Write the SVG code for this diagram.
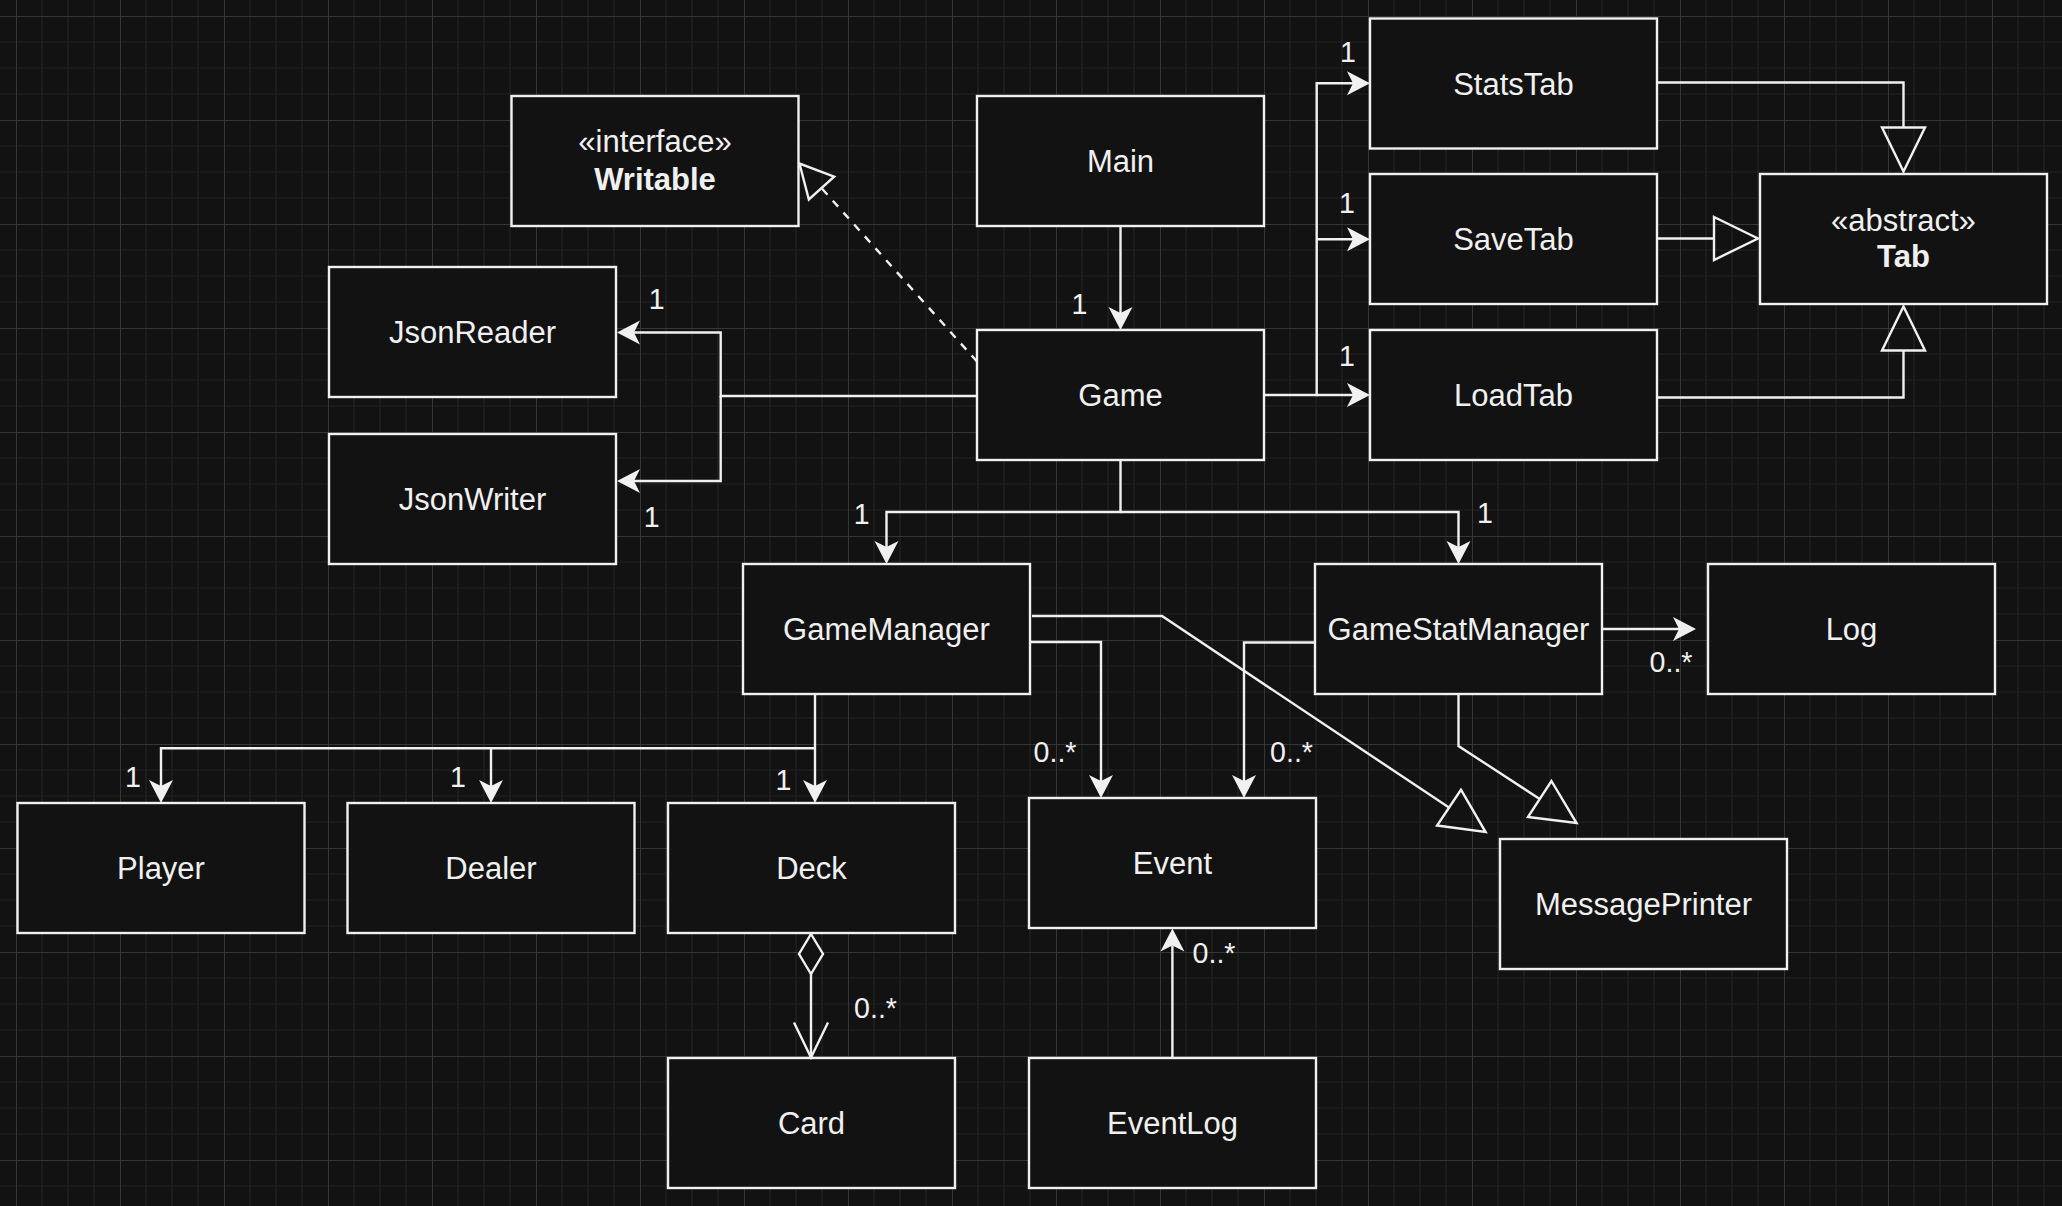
<svg xmlns="http://www.w3.org/2000/svg" width="2062" height="1206" viewBox="0 0 2062 1206">
  <style>
    .node rect { fill: #121212; stroke: #f0f0f0; stroke-width: 2.4; }
    .node text { font-family: "Liberation Sans", Arial, Helvetica, sans-serif; font-size: 31px; fill: #f0f0f0; text-anchor: middle; }
    .node text.b { font-weight: bold; }
    .edge { fill: none; stroke: #f0f0f0; stroke-width: 2.4; }
    .dash { stroke-dasharray: 8 8; }
    .lbl { font-family: "Liberation Sans", Arial, Helvetica, sans-serif; font-size: 28.6px; fill: #f0f0f0; text-anchor: middle; }
  </style>
  <defs>
    <!-- background grid: 26px minor cells, 104px major cells -->
    <pattern id="grid" x="16" y="16" width="104" height="104" patternUnits="userSpaceOnUse">
      <path d="M26,0V104M52,0V104M78,0V104M0,26H104M0,52H104M0,78H104" stroke="#1d1d1d" stroke-width="1.6" fill="none"/>
      <path d="M0.5,0V104M0,0.5H104" stroke="#363636" stroke-width="1" fill="none"/>
    </pattern>
    <!-- filled arrowhead with notch; path end sits at the notch -->
    <marker id="arrow" markerUnits="userSpaceOnUse" markerWidth="24" markerHeight="24" refX="6" refY="12" orient="auto" overflow="visible">
      <path d="M0,0 L23,12 L0,24 L6,12 Z" fill="#f0f0f0" stroke="none"/>
    </marker>
    <!-- hollow triangle for generalization; path end sits at the base -->
    <marker id="gen" markerUnits="userSpaceOnUse" markerWidth="46" markerHeight="44" refX="0" refY="21.5" orient="auto" overflow="visible">
      <path d="M0,0 L44,21.5 L0,43 Z" fill="none" stroke="#f0f0f0" stroke-width="2.4" stroke-dasharray="none"/>
    </marker>
    <!-- smaller hollow triangle for interface realization -->
    <marker id="real" markerUnits="userSpaceOnUse" markerWidth="34" markerHeight="34" refX="0" refY="17" orient="auto" overflow="visible">
      <path d="M0,0 L33,17 L0,34 Z" fill="none" stroke="#f0f0f0" stroke-width="2.4" stroke-dasharray="none"/>
    </marker>
    <!-- open diamond for aggregation -->
    <marker id="diamond" markerUnits="userSpaceOnUse" markerWidth="42" markerHeight="26" refX="0" refY="12" orient="auto" overflow="visible">
      <path d="M0,12 L20,0 L40,12 L20,24 Z" fill="#121212" stroke="#f0f0f0" stroke-width="2.4"/>
    </marker>
    <!-- open V arrowhead -->
    <marker id="open" markerUnits="userSpaceOnUse" markerWidth="36" markerHeight="36" refX="35" refY="17" orient="auto" overflow="visible">
      <path d="M0,0 L35,17 L0,34" fill="none" stroke="#f0f0f0" stroke-width="2.4"/>
    </marker>
  </defs>

  <rect width="2062" height="1206" fill="#121212"/>
  <rect width="2062" height="1206" fill="url(#grid)"/>

  <!-- classes -->
  <g id="n-writable" class="node"><rect x="511.5" y="96" width="287" height="130"/><text x="655" y="151.5">«interface»</text><text class="b" x="655" y="190">Writable</text></g>
  <g id="n-main" class="node"><rect x="977" y="96" width="287" height="130"/><text x="1120.5" y="172">Main</text></g>
  <g id="n-statstab" class="node"><rect x="1370" y="18.5" width="287" height="130"/><text x="1513.5" y="94.5">StatsTab</text></g>
  <g id="n-savetab" class="node"><rect x="1370" y="174" width="287" height="130"/><text x="1513.5" y="250">SaveTab</text></g>
  <g id="n-tab" class="node"><rect x="1760" y="174" width="287" height="130"/><text x="1903.5" y="230.5">«abstract»</text><text class="b" x="1903.5" y="267">Tab</text></g>
  <g id="n-loadtab" class="node"><rect x="1370" y="330" width="287" height="130"/><text x="1513.5" y="406">LoadTab</text></g>
  <g id="n-jsonreader" class="node"><rect x="329" y="267" width="287" height="130"/><text x="472.5" y="343">JsonReader</text></g>
  <g id="n-game" class="node"><rect x="977" y="330" width="287" height="130"/><text x="1120.5" y="406">Game</text></g>
  <g id="n-jsonwriter" class="node"><rect x="329" y="434" width="287" height="130"/><text x="472.5" y="510">JsonWriter</text></g>
  <g id="n-gamemanager" class="node"><rect x="743" y="564" width="287" height="130"/><text x="886.5" y="640">GameManager</text></g>
  <g id="n-gamestatmanager" class="node"><rect x="1315" y="564" width="287" height="130"/><text x="1458.5" y="640">GameStatManager</text></g>
  <g id="n-log" class="node"><rect x="1708" y="564" width="287" height="130"/><text x="1851.5" y="640">Log</text></g>
  <g id="n-player" class="node"><rect x="17.5" y="803" width="287" height="130"/><text x="161" y="879">Player</text></g>
  <g id="n-dealer" class="node"><rect x="347.5" y="803" width="287" height="130"/><text x="491" y="879">Dealer</text></g>
  <g id="n-deck" class="node"><rect x="668" y="803" width="287" height="130"/><text x="811.5" y="879">Deck</text></g>
  <g id="n-event" class="node"><rect x="1029" y="798" width="287" height="130"/><text x="1172.5" y="874">Event</text></g>
  <g id="n-messageprinter" class="node"><rect x="1500" y="839" width="287" height="130"/><text x="1643.5" y="915">MessagePrinter</text></g>
  <g id="n-card" class="node"><rect x="668" y="1058" width="287" height="130"/><text x="811.5" y="1134">Card</text></g>
  <g id="n-eventlog" class="node"><rect x="1029" y="1058" width="287" height="130"/><text x="1172.5" y="1134">EventLog</text></g>

  <!-- relationships -->
  <g id="connectors">
    <!-- Game realizes Writable -->
    <path class="edge dash" d="M977,361.5 L821.5,188.1" marker-end="url(#real)"/>
    <!-- Main -> Game -->
    <path class="edge" d="M1120.5,226 V313" marker-end="url(#arrow)"/>
    <text class="lbl" x="1079.5" y="314">1</text>
    <!-- Game -> JsonReader / JsonWriter -->
    <path class="edge" d="M977,396 H720.7 V332.5 H634" marker-end="url(#arrow)"/>
    <path class="edge" d="M720.7,396 V481 H634" marker-end="url(#arrow)"/>
    <text class="lbl" x="656.7" y="308.5">1</text>
    <text class="lbl" x="651.7" y="527">1</text>
    <!-- Game -> tabs -->
    <path class="edge" d="M1264,395 H1316.7 V83.3 H1353" marker-end="url(#arrow)"/>
    <path class="edge" d="M1316.7,239.3 H1353" marker-end="url(#arrow)"/>
    <path class="edge" d="M1316.7,395 H1353" marker-end="url(#arrow)"/>
    <text class="lbl" x="1348" y="62">1</text>
    <text class="lbl" x="1347" y="212.5">1</text>
    <text class="lbl" x="1347" y="366">1</text>
    <!-- tabs extend Tab -->
    <path class="edge" d="M1657,82.5 H1903.5 V127.5" marker-end="url(#gen)"/>
    <path class="edge" d="M1657,238.5 H1714" marker-end="url(#gen)"/>
    <path class="edge" d="M1657,397.5 H1903.5 V350.5" marker-end="url(#gen)"/>
    <!-- Game -> managers -->
    <path class="edge" d="M1120.5,460 V512 H886.5 V547" marker-end="url(#arrow)"/>
    <path class="edge" d="M1120.5,512 H1458.5 V547" marker-end="url(#arrow)"/>
    <text class="lbl" x="861.6" y="524">1</text>
    <text class="lbl" x="1485" y="523">1</text>
    <!-- GameManager -> Player / Dealer / Deck -->
    <path class="edge" d="M815,694 V786" marker-end="url(#arrow)"/>
    <path class="edge" d="M815,748.3 H161 V786" marker-end="url(#arrow)"/>
    <path class="edge" d="M491,748.3 V786" marker-end="url(#arrow)"/>
    <text class="lbl" x="133" y="787">1</text>
    <text class="lbl" x="458" y="787">1</text>
    <text class="lbl" x="783.5" y="789.5">1</text>
    <!-- managers -> Event -->
    <path class="edge" d="M1030,642 H1101 V781" marker-end="url(#arrow)"/>
    <path class="edge" d="M1315,642.5 H1244 V781" marker-end="url(#arrow)"/>
    <text class="lbl" x="1055" y="762">0..*</text>
    <text class="lbl" x="1291.5" y="762">0..*</text>
    <!-- GameStatManager -> Log -->
    <path class="edge" d="M1602,629 H1679" marker-end="url(#arrow)"/>
    <text class="lbl" x="1671" y="672">0..*</text>
    <!-- managers extend MessagePrinter -->
    <path class="edge" d="M1032,616 H1162 L1449,807.6" marker-end="url(#gen)"/>
    <path class="edge" d="M1458.5,694 V746 L1539.7,799" marker-end="url(#gen)"/>
    <!-- Deck aggregates Card -->
    <path class="edge" d="M811,934 V1057.5" marker-start="url(#diamond)" marker-end="url(#open)"/>
    <text class="lbl" x="875.5" y="1018">0..*</text>
    <!-- EventLog -> Event -->
    <path class="edge" d="M1172.4,1058 V945.5" marker-end="url(#arrow)"/>
    <text class="lbl" x="1214" y="963">0..*</text>
  </g>
</svg>
